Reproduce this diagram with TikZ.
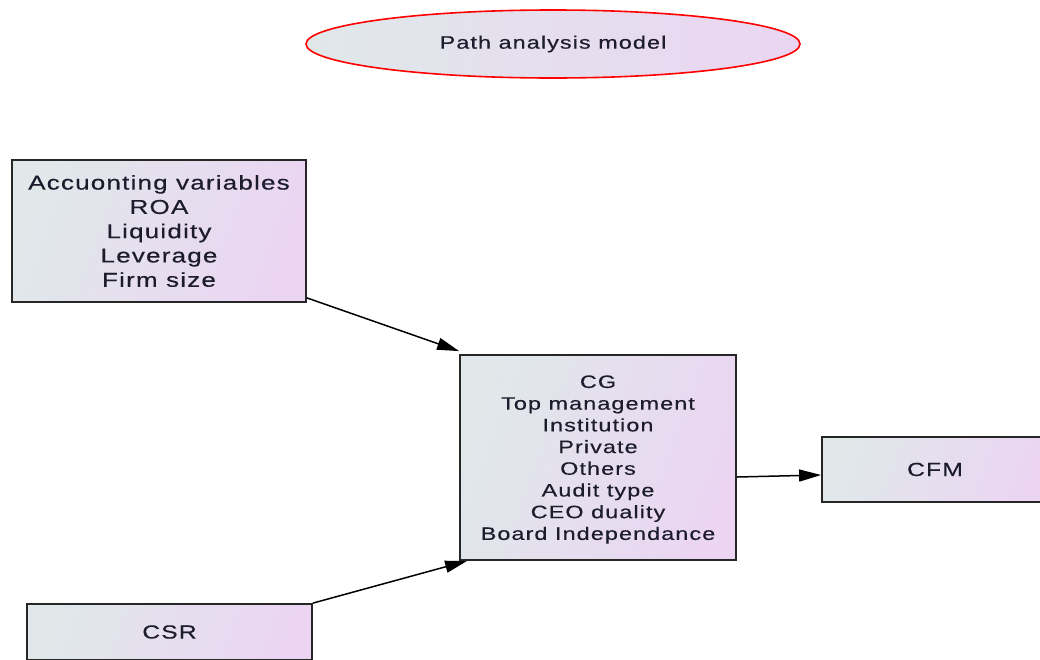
\documentclass[tikz,border=0pt]{standalone}
\usepackage{fontspec}
\setmainfont{Liberation Sans}[FakeStretch=1.3,LetterSpace=6,FakeBold=0.4]
\usetikzlibrary{arrows.meta,shapes.geometric}
\definecolor{gleft}{HTML}{E0E8EA}
\definecolor{gright}{HTML}{EBD5F2}
\definecolor{txt}{HTML}{1C1C2C}
\tikzset{
  boxnode/.style={draw=black!85,line width=1.8pt,left color=gleft,right color=gright,
    shading angle=70,inner sep=0pt,align=center,text=txt},
  ellnode/.style={ellipse,draw=red,line width=1.6pt,left color=gleft,right color=gright,
    inner sep=0pt,text=txt,font=\fontsize{18}{20}\selectfont},
  conn/.style={line width=1.5pt,draw=black,-{Triangle[length=22pt,width=12pt]}}
}
\begin{document}
\begin{tikzpicture}[x=1pt,y=-1pt]
\useasboundingbox (0,0) rectangle (1040,659);
\clip (0,0) rectangle (1040,659);
\fill[white] (0,0) rectangle (1040,659);
\node[ellnode,minimum width=494pt,minimum height=68pt] (title) at (553,44) {Path analysis model};
\node[boxnode,minimum width=294pt,minimum height=142pt,font=\fontsize{20}{24.3}\selectfont] (acc) at (159,231)
  {Accuonting variables\\ROA\\Liquidity\\Leverage\\Firm size};
\node[boxnode,minimum width=276pt,minimum height=205pt] (cg) at (598,457.5) {};
\node[align=center,text=txt,inner sep=0pt,font=\fontsize{18}{21.7}\selectfont] (cgtext) at (598,459.5)
  {CG\\Top management\\Institution\\Private\\Others\\Audit type\\CEO duality\\Board Independance};
\node[boxnode,minimum width=226pt,minimum height=65pt,font=\fontsize{19}{22}\selectfont] (cfm) at (935,469.5) {CFM};
\node[boxnode,minimum width=285pt,minimum height=56pt,font=\fontsize{19}{22}\selectfont] (csr) at (169.5,632) {CSR};
\draw[conn] ([yshift=5pt]acc.south east) -- ([yshift=3pt]cg.north west);
\draw[conn] (csr.north east) -- ([xshift=8pt]cg.south west);
\draw[conn] ([yshift=-19.5pt]cg.east) -- ([yshift=-5.5pt]cfm.west);
\end{tikzpicture}
\end{document}
